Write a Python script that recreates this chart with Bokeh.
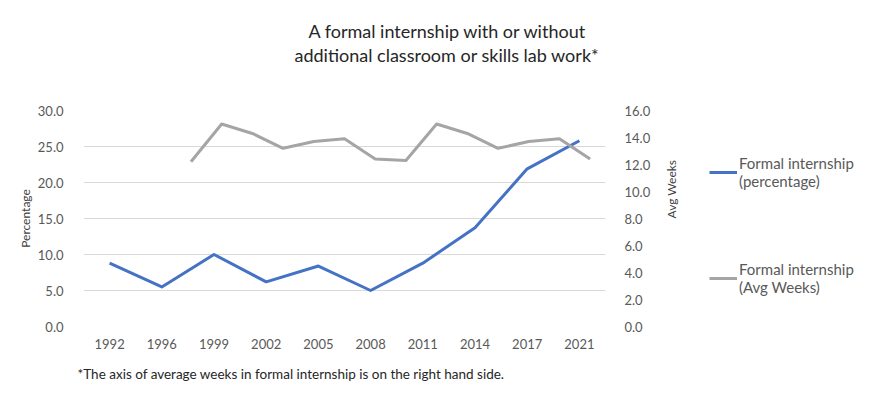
import math
import numpy as np
from bokeh.plotting import figure
from bokeh.layouts import row
from bokeh.models import (Range1d, LinearAxis, Legend, LegendItem, Title,
                          FixedTicker, NumeralTickFormatter)
from bokeh.embed import file_html
from bokeh.resources import INLINE

# Survey years (primary category axis)
years = ["1992", "1996", "1999", "2002", "2005", "2008", "2011", "2014", "2017", "2021"]
# Share of programs with a formal internship (%)
pct_internship = [8.8, 5.5, 10.0, 6.2, 8.4, 5.0, 8.8, 13.7, 21.9, 25.8]

# Average internship length in weeks, on a finer secondary category grid
week_slots = list(range(17))
avg_weeks = [None, None, None, 12.2, 15.0, 14.3, 13.2, 13.7, 13.9, 12.4,
             12.3, 15.0, 14.3, 13.2, 13.7, 13.9, 12.4]

pct_ticks = [0, 5, 10, 15, 20, 25, 30]
week_ticks = [0, 2, 4, 6, 8, 10, 12, 14, 16]

FONT = "Lato"
TICK_COLOR = "#595959"
TEXT_COLOR = "#262626"
BLUE = "#4472c4"
GREY = "#a5a5a5"
H = 411
CHART_W, KEY_W = 700, 183

# category centres sit at the middle of each unit-wide band
year_x = [i + 0.5 for i in range(len(years))]
wk_x = [s + 0.5 for s in week_slots]
wk_y = [np.nan if v is None else v for v in avg_weeks]

p = figure(width=CHART_W, height=H,
           x_range=Range1d(0, len(years)),
           y_range=Range1d(0, 30),
           output_backend="svg", toolbar_location=None,
           min_border_left=83, min_border_right=95,
           min_border_top=110, min_border_bottom=85)
p.extra_y_ranges = {"wk": Range1d(0, 16)}
p.extra_x_ranges = {"slot": Range1d(0, len(week_slots))}

p.background_fill_color = "white"
p.border_fill_color = "white"
p.outline_line_color = None

# axes
p.xaxis.ticker = FixedTicker(ticks=year_x)
p.xaxis.major_label_overrides = {x: y for x, y in zip(year_x, years)}
p.xaxis.axis_line_color = None
p.xaxis.major_tick_line_color = None
p.xaxis.minor_tick_line_color = None
p.xaxis.major_label_text_font = FONT
p.xaxis.major_label_text_font_size = "13px"
p.xaxis.major_label_text_color = TICK_COLOR
p.xaxis.major_label_standoff = 6

p.yaxis.ticker = FixedTicker(ticks=pct_ticks)
p.yaxis.formatter = NumeralTickFormatter(format="0.0")
p.yaxis.axis_line_color = None
p.yaxis.major_tick_line_color = None
p.yaxis.minor_tick_line_color = None
p.yaxis.major_label_text_font = FONT
p.yaxis.major_label_text_font_size = "13px"
p.yaxis.major_label_text_color = TICK_COLOR
p.yaxis.major_label_standoff = 14
p.yaxis.axis_label = "Percentage"
p.yaxis.axis_label_text_font = FONT
p.yaxis.axis_label_text_font_size = "12px"
p.yaxis.axis_label_text_font_style = "normal"
p.yaxis.axis_label_text_color = "#404040"
p.yaxis.axis_label_standoff = 2

right = LinearAxis(y_range_name="wk", ticker=FixedTicker(ticks=week_ticks),
                   formatter=NumeralTickFormatter(format="0.0"))
right.axis_line_color = None
right.major_tick_line_color = None
right.minor_tick_line_color = None
right.major_label_text_font = FONT
right.major_label_text_font_size = "13px"
right.major_label_text_color = TICK_COLOR
right.major_label_standoff = 13
right.axis_label = "Avg Weeks"
right.axis_label_orientation = math.pi / 2
right.axis_label_text_font = FONT
right.axis_label_text_font_size = "12px"
right.axis_label_text_font_style = "normal"
right.axis_label_text_color = "#404040"
right.axis_label_standoff = 18
p.add_layout(right, "right")

p.xgrid.visible = False
p.ygrid.ticker = FixedTicker(ticks=pct_ticks)
p.ygrid.grid_line_color = "#d9d9d9"
p.ygrid.grid_line_width = 1

# series
p.line(x=year_x, y=pct_internship, line_color=BLUE, line_width=3, line_join="round")
p.line(x=wk_x, y=wk_y, x_range_name="slot", y_range_name="wk",
       line_color=GREY, line_width=3, line_join="round")

# heading: spacer nearest the frame, then the two lines stacked upward
p.add_layout(Title(text=" ", align="left", standoff=21,
                   text_font=FONT, text_font_size="18px"), "above")
for txt, offset in [("additional classroom or skills lab work*", 211),
                    ("A formal internship with or without", 225)]:
    p.add_layout(Title(text=txt, align="left", offset=offset, standoff=0,
                       text_font=FONT, text_font_size="18px",
                       text_font_style="normal", text_color=TEXT_COLOR), "above")

p.add_layout(Title(text="*The axis of average weeks in formal internship is on the right hand side.",
                   align="left", offset=-6, standoff=24,
                   text_font=FONT, text_font_size="13.5px",
                   text_font_style="normal", text_color=TEXT_COLOR), "below")

# key panel to the right of the chart
key = figure(width=KEY_W, height=H, x_range=Range1d(0, 1), y_range=Range1d(0, 1),
             output_backend="svg", toolbar_location=None,
             x_axis_location=None, y_axis_location=None,
             min_border=0, min_border_left=0, min_border_right=0,
             min_border_top=0, min_border_bottom=0)
key.grid.visible = False
key.outline_line_color = None
key.background_fill_color = "white"
key.border_fill_color = "white"

k_blue = key.line(x=year_x, y=pct_internship, line_color=BLUE, line_width=3, visible=False)
k_grey = key.line(x=wk_x, y=wk_y, line_color=GREY, line_width=3, visible=False)

legend = Legend(items=[
    LegendItem(label="Formal internship\n(percentage)", renderers=[k_blue]),
    LegendItem(label="Formal internship\n(Avg Weeks)", renderers=[k_grey]),
], location=(9, 30))
legend.inactive_fill_alpha = 0
legend.border_line_color = None
legend.background_fill_alpha = 0
legend.label_text_font = FONT
legend.label_text_font_size = "15px"
legend.label_text_color = TICK_COLOR
legend.glyph_width = 28
legend.label_standoff = 2
legend.padding = 0
legend.margin = 0
legend.spacing = 70
key.add_layout(legend, "center")

page = row(p, key)

open("out.html", "w").write(file_html(page, INLINE))
